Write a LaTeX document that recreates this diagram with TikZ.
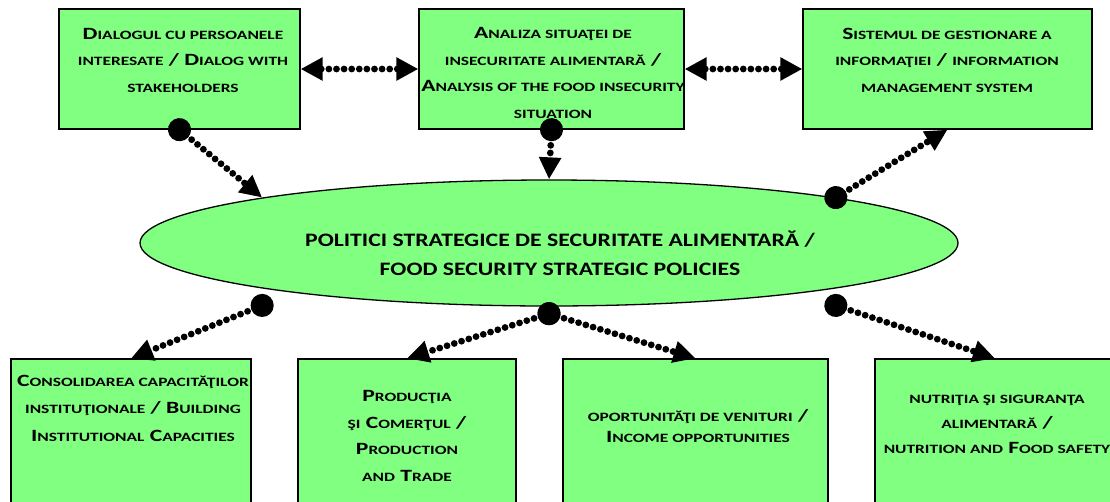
\documentclass[tikz,border=0pt]{standalone}
\usepackage{fontspec}
\setmainfont{Carlito}[FakeStretch=1.25]
\newfontfamily\boxfont{Carlito}[FakeStretch=1.37]
\usepackage{tikz}
\usetikzlibrary{arrows.meta,shapes.geometric,positioning}
\definecolor{boxgreen}{RGB}{128,255,128}
\newcommand{\sm}[1]{{\fontsize{12.7}{26}\selectfont #1}}

\begin{document}
\begin{tikzpicture}[x=1pt,y=-1pt,
    box/.style={draw=black, line width=1.3pt, fill=boxgreen, inner sep=0pt},
    boxtext/.style={align=center, inner sep=0pt, anchor=base,
        font=\boxfont\bfseries\fontsize{17.2}{26.5}\selectfont},
    link/.style={line width=6.8pt, dash pattern=on 0pt off 7.6pt, line cap=round,
        {Circle[length=23pt]}-{Triangle[length=22pt,width=21pt]}, shorten <=-11.5pt},
    twoway/.style={line width=6.8pt, dash pattern=on 0pt off 7.6pt, line cap=round,
        {Triangle[length=22pt,width=22pt]}-{Triangle[length=22pt,width=22pt]}}]
    \useasboundingbox (0,0) rectangle (1110,501);

    % Top row
    \node[box, minimum width=241pt, minimum height=120pt] (dlg) at (179.5,69) {};
    \node[box, minimum width=265pt, minimum height=120pt] (ana) at (551.5,69) {};
    \node[box, minimum width=289pt, minimum height=120pt] (inf) at (947.5,69) {};
    \node[boxtext] (dlgtxt) at (183,92) {D\sm{IALOGUL CU PERSOANELE}\\\sm{INTERESATE} / D\sm{IALOG WITH}\\\sm{STAKEHOLDERS}};
    \node[boxtext] (anatxt) at (553,118) {A\sm{NALIZA SITUAŢEI DE}\\\sm{INSECURITATE ALIMENTARĂ} /\\A\sm{NALYSIS OF THE FOOD INSECURITY}\\\sm{SITUATION}};
    \node[boxtext] (inftxt) at (947,92) {S\sm{ISTEMUL DE GESTIONARE A}\\\sm{INFORMAŢIEI} / \sm{INFORMATION}\\\sm{MANAGEMENT SYSTEM}};

    % Central policy ellipse
    \node[ellipse, draw=black, line width=1.3pt, fill=boxgreen, inner sep=0pt,
        minimum width=818pt, minimum height=126pt] (pol) at (549,243) {};
    \node[align=center, inner sep=0pt, anchor=base,
        font=\bfseries\fontsize{19}{29}\selectfont] (poltxt) at (560,275)
        {POLITICI STRATEGICE DE SECURITATE ALIMENTARĂ /\\FOOD SECURITY STRATEGIC POLICIES};

    % Bottom row (cut by the page edge)
    \node[box, minimum width=240pt, minimum height=186pt] (cap) at (131,452) {};
    \node[box, minimum width=218pt, minimum height=186pt] (prod) at (407,452) {};
    \node[box, minimum width=265pt, minimum height=186pt] (inc) at (695.5,452) {};
    \node[box, minimum width=240pt, minimum height=186pt] (nut) at (995,452) {};
    \node[boxtext, font=\boxfont\bfseries\fontsize{17.2}{27.5}\selectfont] (captxt) at (133,441)
        {C\sm{ONSOLIDAREA CAPACITĂŢILOR}\\\sm{INSTITUŢIONALE} / B\sm{UILDING}\\I\sm{NSTITUTIONAL} C\sm{APACITIES}};
    \node[boxtext] (prodtxt) at (407,481) {P\sm{RODUCŢIA}\\\sm{ŞI} C\sm{OMERŢUL} /\\P\sm{RODUCTION}\\\sm{AND} T\sm{RADE}};
    \node[boxtext, font=\boxfont\bfseries\fontsize{17.2}{21}\selectfont] (inctxt) at (698,442)
        {\sm{OPORTUNITĂŢI DE VENITURI} /\\I\sm{NCOME OPPORTUNITIES}};
    \node[boxtext, font=\boxfont\bfseries\fontsize{17.2}{25}\selectfont] (nuttxt) at (997,453)
        {\sm{NUTRIŢIA ŞI SIGURANŢA}\\\sm{ALIMENTARĂ} /\\\sm{NUTRITION AND} F\sm{OOD SAFETY}};

    % Links
    \draw[twoway] (dlg.east) -- (ana.west);
    \draw[twoway] (ana.east) -- (inf.west);
    \draw[link] (dlg.south) -- (pol.171);
    \draw[link] (ana.south) -- (pol.north);
    \draw[link] (pol.9) -- (inf.south);
    \draw[link] ([yshift=-17pt]pol.189) -- (cap.north);
    \draw[link] ([yshift=-7pt]pol.south) -- (prod.north);
    \draw[link] ([yshift=-7pt]pol.south) -- (inc.north);
    \draw[link] ([yshift=-17pt]pol.351) -- (nut.north);
\end{tikzpicture}
\end{document}
